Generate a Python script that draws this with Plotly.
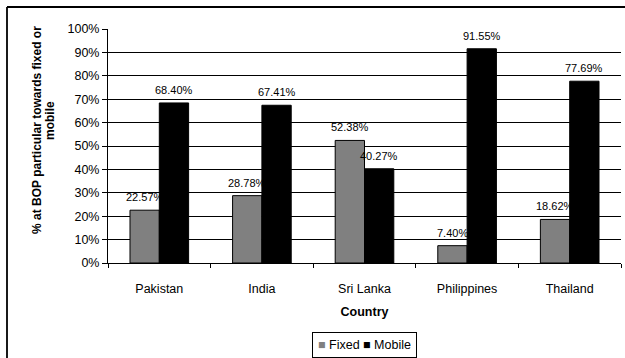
import plotly.graph_objects as go

countries = ["Pakistan", "India", "Sri Lanka", "Philippines", "Thailand"]
fixed = [0.2257, 0.2878, 0.5238, 0.0740, 0.1862]
mobile = [0.6840, 0.6741, 0.4027, 0.9155, 0.7769]
series_names = ["Fixed", "Mobile"]
y_title_lines = ["% at BOP particular towards fixed or", "mobile"]
x_title = "Country"

FONT = "Arial, 'Liberation Sans', sans-serif"
W, H = 625, 358
L, R, T, B = 108, 4, 29, 95
pw, ph = W - L - R, H - T - B

def px_x(x):  # pixel -> paper x
    return (x - L) / pw

def px_y(y):  # pixel -> paper y
    return (T + ph - y) / ph

fig = go.Figure()
colors = ["#808080", "#000000"]
for name, vals, col in zip(series_names, [fixed, mobile], colors):
    fig.add_trace(go.Bar(
        x=countries, y=vals, name=name, showlegend=False,
        marker=dict(color=col, line=dict(color="#000000", width=1)),
    ))

# data labels above the bars
bar_w = pw / len(countries) / 3.5
for i, (name, vals) in enumerate(zip(series_names, [fixed, mobile])):
    shift = (-0.5 if i == 0 else 0.5) * bar_w
    for c, v in zip(countries, vals):
        fig.add_annotation(
            x=c, y=v, text=f"{v*100:.2f}%", showarrow=False,
            xshift=shift, yshift=5, yanchor="bottom",
            font=dict(family=FONT, size=11, color="#000000"),
        )

# y-axis title (two lines, bold, rotated)
fig.add_annotation(
    xref="paper", yref="paper", x=px_x(37), y=px_y(130), text=f"<b>{y_title_lines[0]}</b>",
    textangle=-90, showarrow=False, xanchor="center", yanchor="middle",
    font=dict(family=FONT, size=12, color="#000000"),
)
fig.add_annotation(
    xref="paper", yref="paper", x=px_x(50), y=px_y(121), text=f"<b>{y_title_lines[1]}</b>",
    textangle=-90, showarrow=False, xanchor="center", yanchor="middle",
    font=dict(family=FONT, size=12, color="#000000"),
)

# legend box
legend_text = (f"<span style='color:{colors[0]}'>■</span> {series_names[0]} "
               f"<span style='color:{colors[1]}'>■</span> {series_names[1]}")
fig.add_annotation(
    xref="paper", yref="paper", x=0.5, y=px_y(345), text=legend_text,
    showarrow=False, xanchor="center", yanchor="middle",
    bordercolor="#000000", borderwidth=1, borderpad=5, bgcolor="white",
    font=dict(family=FONT, size=12.5, color="#000000"),
)

# cover the gridline at 100% (reference shows none)
fig.add_shape(type="line", xref="paper", yref="y", x0=0.003, x1=1.01, y0=1, y1=1,
              line=dict(color="white", width=3), layer="between")

# outer chart frame (only left and top edges are visible in the crop)
fig.add_shape(type="line", xref="paper", yref="paper",
              x0=px_x(7), x1=px_x(W + 5), y0=px_y(7), y1=px_y(7),
              line=dict(color="#000000", width=1.8), layer="above")
fig.add_shape(type="line", xref="paper", yref="paper",
              x0=px_x(7), x1=px_x(7), y0=px_y(7), y1=px_y(H + 5),
              line=dict(color="#000000", width=1.8), layer="above")

fig.update_layout(
    width=W, height=H,
    margin=dict(l=L, r=R, t=T, b=B, pad=0),
    paper_bgcolor="white", plot_bgcolor="white",
    barmode="group", bargap=1.5 / 3.5, bargroupgap=0,
    font=dict(family=FONT, size=12, color="#000000"),
    showlegend=False,
    xaxis=dict(
        showline=True, linecolor="#000000", linewidth=1,
        ticks="outside", tickson="boundaries", ticklen=4, tickcolor="#000000",
        tickfont=dict(family=FONT, size=12.5), ticklabelstandoff=14,
        title=dict(text=f"<b>{x_title}</b>", font=dict(family=FONT, size=12.5), standoff=12),
        showgrid=False,
    ),
    yaxis=dict(
        range=[0, 1], dtick=0.1, tickformat=".0%",
        showline=True, linecolor="#000000", linewidth=1,
        ticks="outside", ticklen=5, tickcolor="#000000",
        tickfont=dict(family=FONT, size=12.5),
        showgrid=True, gridcolor="#000000", gridwidth=1,
        zeroline=False,
    ),
)

fig.write_html("out.html")
